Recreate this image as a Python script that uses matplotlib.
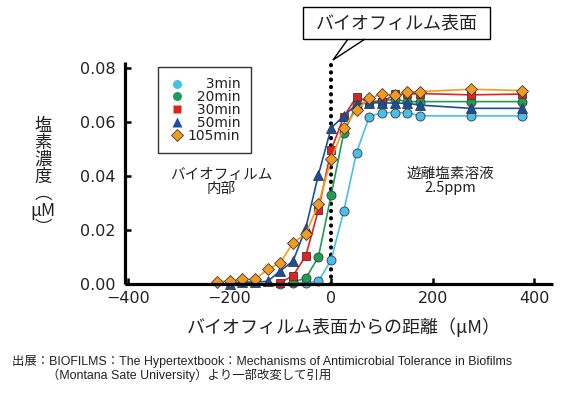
import matplotlib
matplotlib.use("Agg")
import matplotlib.pyplot as plt
from matplotlib.lines import Line2D
from matplotlib.patches import Rectangle, Polygon

plt.rcParams['font.family'] = ['DejaVu Sans', 'Noto Sans CJK JP']

# ---------------- data ----------------
distance = [-225, -200, -175, -150, -125, -100, -75, -50, -25, 0, 25, 50, 75,
            100, 125, 150, 175, 275, 375]

x_3min = [-100, -75, -50, -25, 0, 25, 50, 75, 100, 125, 150, 175, 275, 375]
y_3min = [0.0000, 0.0003, 0.0005, 0.0010, 0.0089, 0.0271, 0.0487, 0.0621,
          0.0636, 0.0636, 0.0636, 0.0624, 0.0624, 0.0624]

x_20min = [-75, -50, -25, 0, 25, 50, 75, 100, 125, 150, 175, 275, 375]
y_20min = [0.0008, 0.0021, 0.0101, 0.0330, 0.0562, 0.0664, 0.0677, 0.0680,
           0.0686, 0.0677, 0.0677, 0.0677, 0.0677]

x_30min = [-100, -75, -50, -25, 0, 25, 50, 75, 100, 125, 150, 175, 275, 375]
y_30min = [0.0005, 0.0031, 0.0104, 0.0275, 0.0497, 0.0621, 0.0695, 0.0674,
           0.0674, 0.0705, 0.0704, 0.0707, 0.0702, 0.0705]

x_50min = [-200, -175, -150, -125, -100, -75, -50, -25, 0, 25, 50, 75, 100,
           125, 150, 175, 275, 375]
y_50min = [0.0000, 0.0007, 0.0007, 0.0010, 0.0049, 0.0085, 0.0207, 0.0406,
           0.0579, 0.0624, 0.0667, 0.0673, 0.0673, 0.0671, 0.0671, 0.0664,
           0.0652, 0.0652]

x_105min = distance
y_105min = [0.0009, 0.0010, 0.0017, 0.0017, 0.0055, 0.0079, 0.0153, 0.0186,
            0.0296, 0.0463, 0.0580, 0.0646, 0.0689, 0.0705, 0.0700, 0.0712,
            0.0714, 0.0723, 0.0718]

series_labels = ["3min", "20min", "30min", "50min", "105min"]
legend_labels = ["\u2007\u20073min", "\u200720min", "\u200730min",
                 "\u200750min", "105min"]

x_ticks = [-400, -200, 0, 200, 400]
y_ticks = [0.00, 0.02, 0.04, 0.06, 0.08]

# ---------------- style ----------------
colors = ['#48bfe9', '#1f9d55', '#e4211f', '#1a4f9f', '#f39b1f']
markers = ['o', 'o', 's', '^', 'D']
msizes = [6.5, 6.5, 6.3, 7.0, 6.3]

fig = plt.figure(figsize=(5.81, 3.97), dpi=100)
ax = fig.add_axes([125 / 581, 1 - 284 / 397, 428 / 581, 222 / 397])

xs = [x_3min, x_20min, x_30min, x_50min, x_105min]
ys = [y_3min, y_20min, y_30min, y_50min, y_105min]

# biofilm surface dotted line
ax.plot([0, 0], [0, 0.0824], color='black', lw=3.0,
        linestyle=(0, (0.05, 1.7)), dash_capstyle='round',
        solid_capstyle='round', clip_on=False, zorder=1.5)

for i in range(5):
    ax.plot(xs[i], ys[i], color=colors[i], lw=1.2, marker=markers[i],
            ms=msizes[i], mfc=colors[i], mec='#3a3a3a', mew=0.6,
            clip_on=False, zorder=2 + i * 0.1, label=series_labels[i])

ax.set_xlim(-406, 437)
ax.set_ylim(0, 0.0824)
ax.set_xticks(x_ticks)
ax.set_xticklabels(["\u2212400", "\u2212200", "0", "200", "400"])
ax.set_yticks(y_ticks)
ax.set_yticklabels(["0.00", "0.02", "0.04", "0.06", "0.08"])

for s in ['top', 'right']:
    ax.spines[s].set_visible(False)
for s in ['left', 'bottom']:
    ax.spines[s].set_linewidth(2.3)
    ax.spines[s].set_capstyle('butt')
ax.tick_params(direction='in', length=4.5, width=1.8, labelsize=11.5,
               colors='black', labelcolor='#222222')
ax.tick_params(axis='y', pad=7)
ax.tick_params(axis='x', pad=5)

# axis labels
fig.text(344 / 581, 1 - 327 / 397,
         "バイオフィルム表面からの距離（μM）",
         ha='center', va='center', fontsize=13, color='#222222',
         family=['Noto Sans CJK JP', 'DejaVu Sans'])
fig.text(43 / 581, 1 - 177 / 397,
         "塩\n素\n濃\n度\n︵\nμM\n︶",
         ha='center', va='center', fontsize=12.5, linespacing=0.92,
         color='#222222', family=['Noto Sans CJK JP', 'DejaVu Sans'])

# in-plot annotations
ax.text(-216, 0.0379, "バイオフィルム\n内部", ha='center', va='center',
        fontsize=10.5, linespacing=1.05, color='#222222',
        family=['Noto Sans CJK JP', 'DejaVu Sans'])
ax.text(234, 0.0382, "遊離塩素溶液\n2.5ppm", ha='center', va='center',
        fontsize=10.5, linespacing=1.05, color='#222222',
        family=['Noto Sans CJK JP', 'DejaVu Sans'])

# legend (markers only, right-aligned labels)
handles = [Line2D([], [], ls='none', marker=markers[i], ms=msizes[i],
                  mfc=colors[i], mec='none' if i < 4 else '#3a3a3a',
                  mew=0.6) for i in range(5)]
leg = ax.legend(handles, legend_labels, loc='upper left',
                bbox_to_anchor=(158 / 581, 1 - 67 / 397),
                bbox_transform=fig.transFigure, borderaxespad=0,
                fontsize=10, labelspacing=-0.08, handlelength=1.2,
                handletextpad=0.2, borderpad=0.75, fancybox=False,
                framealpha=1, edgecolor='#333333')
leg.get_frame().set_linewidth(1.0)
for t in leg.get_texts():
    t.set_color('#222222')

# callout box
tr = fig.transFigure
W, H = 581, 397
box = Rectangle((303 / W, 1 - 39 / H), (490 - 303) / W, 32 / H,
                transform=tr, fill=True, facecolor='white',
                edgecolor='black', lw=1.0, zorder=5)
fig.patches.append(box)
tail = Polygon([(348 / W, 1 - 39 / H), (333 / W, 1 - 60 / H),
                (365 / W, 1 - 39 / H)], closed=False, transform=tr,
               fill=False, edgecolor='black', lw=1.0, zorder=5)
fig.patches.append(tail)
fig.text(396.5 / W, 1 - 23 / H, "バイオフィルム表面", ha='center',
         va='center', fontsize=13, zorder=6, color='#222222',
         family=['Noto Sans CJK JP', 'DejaVu Sans'])

# source footnote
foot_family = ['Liberation Sans Narrow', 'Liberation Sans', 'Noto Sans CJK JP']
fig.text(12 / W, 1 - 361 / H,
         "出展：BIOFILMS：The Hypertextbook：Mechanisms of Antimicrobial "
         "Tolerance in Biofilms",
         ha='left', va='center', fontsize=8.9, color='#222222',
         family=foot_family)
fig.text(47 / W, 1 - 375 / H,
         "（Montana Sate University）より一部改変して引用",
         ha='left', va='center', fontsize=8.9, color='#222222',
         family=foot_family)

fig.savefig("out.png", dpi=100)
